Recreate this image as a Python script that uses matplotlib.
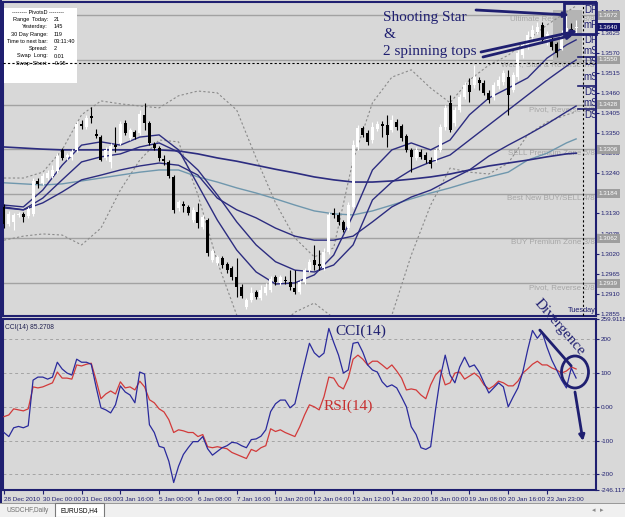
import matplotlib
matplotlib.use("Agg")
import matplotlib.pyplot as plt
import matplotlib.transforms as mtransforms
from matplotlib.patches import Rectangle, Ellipse, FancyArrowPatch
import numpy as np

# EURUSD H4 candles (bar 0 = 28 Dec 2010 16:00)
opens = [1.3148, 1.3101, 1.3107, 1.3126, 1.3129, 1.3124, 1.3129, 1.3219, 1.3214, 1.3227,
         1.3233, 1.3246, 1.3304, 1.3285, 1.3285, 1.3304, 1.3375, 1.3366, 1.3397, 1.3347,
         1.3339, 1.3282, 1.3271, 1.3317, 1.3323, 1.3378, 1.3336, 1.3353, 1.3350, 1.3400,
         1.3378, 1.3320, 1.3309, 1.3279, 1.3271, 1.3230, 1.3145, 1.3156, 1.3148, 1.3112,
         1.3135, 1.3093, 1.3112, 1.3003, 1.2995, 1.3008, 1.2992, 1.2981, 1.2956, 1.2929,
         1.2874, 1.2893, 1.2916, 1.2899, 1.2913, 1.2921, 1.2956, 1.2940, 1.2948, 1.2943,
         1.2926, 1.2916, 1.2943, 1.2975, 1.3003, 1.2992, 1.2981, 1.3025, 1.3132, 1.3126,
         1.3107, 1.3090, 1.3148, 1.3312, 1.3364, 1.3350, 1.3331, 1.3361, 1.3375, 1.3372,
         1.3358, 1.3380, 1.3369, 1.3342, 1.3304, 1.3282, 1.3298, 1.3290, 1.3276, 1.3276,
         1.3304, 1.3366, 1.3433, 1.3378, 1.3413, 1.3449, 1.3482, 1.3482, 1.3495, 1.3487,
         1.3460, 1.3449, 1.3479, 1.3490, 1.3504, 1.3468, 1.3504, 1.3563, 1.3585, 1.3613,
         1.3626, 1.3646, 1.3596, 1.3605, 1.3594, 1.3580, 1.3624, 1.3635, 1.3637]
closes = [1.3101, 1.3129, 1.3126, 1.3129, 1.3121, 1.3142, 1.3219, 1.3211, 1.3233, 1.3241,
          1.3249, 1.3287, 1.3282, 1.3290, 1.3298, 1.3375, 1.3369, 1.3391, 1.3391, 1.3342,
          1.3276, 1.3304, 1.3315, 1.3312, 1.3375, 1.3350, 1.3358, 1.3339, 1.3402, 1.3378,
          1.3323, 1.3309, 1.3282, 1.3273, 1.3233, 1.3140, 1.3162, 1.3151, 1.3132, 1.3140,
          1.3104, 1.3121, 1.3022, 1.3027, 1.3011, 1.2989, 1.2975, 1.2956, 1.2929, 1.2904,
          1.2893, 1.2913, 1.2902, 1.2921, 1.2929, 1.2951, 1.2943, 1.2956, 1.2946, 1.2929,
          1.2916, 1.2943, 1.2975, 1.2998, 1.2989, 1.2986, 1.3025, 1.3126, 1.3126, 1.3107,
          1.3085, 1.3153, 1.3317, 1.3364, 1.3345, 1.3326, 1.3366, 1.3375, 1.3369, 1.3345,
          1.3386, 1.3366, 1.3336, 1.3304, 1.3285, 1.3304, 1.3285, 1.3276, 1.3265, 1.3304,
          1.3366, 1.3419, 1.3358, 1.3413, 1.3449, 1.3482, 1.3463, 1.3504, 1.3487, 1.3460,
          1.3441, 1.3482, 1.3495, 1.3514, 1.3454, 1.3509, 1.3569, 1.3591, 1.3618, 1.3632,
          1.3640, 1.3605, 1.3621, 1.3585, 1.3569, 1.3624, 1.3637, 1.3632, 1.3640]
highs = [1.3156, 1.3137, 1.3132, 1.3135, 1.3135, 1.3148, 1.3227, 1.3227, 1.3241, 1.3249,
         1.3262, 1.3295, 1.3309, 1.3295, 1.3306, 1.3383, 1.3386, 1.3400, 1.3422, 1.3361,
         1.3345, 1.3312, 1.3323, 1.3366, 1.3383, 1.3386, 1.3364, 1.3358, 1.3413, 1.3433,
         1.3383, 1.3326, 1.3315, 1.3290, 1.3276, 1.3235, 1.3167, 1.3164, 1.3153, 1.3148,
         1.3159, 1.3126, 1.3118, 1.3033, 1.3016, 1.3014, 1.2998, 1.2986, 1.3008, 1.2937,
         1.2899, 1.2929, 1.2921, 1.2935, 1.2940, 1.2959, 1.2962, 1.2962, 1.2959, 1.2975,
         1.2975, 1.2948, 1.2981, 1.3005, 1.3044, 1.3030, 1.3036, 1.3135, 1.3145, 1.3135,
         1.3112, 1.3162, 1.3331, 1.3372, 1.3369, 1.3358, 1.3380, 1.3383, 1.3383, 1.3400,
         1.3400, 1.3388, 1.3375, 1.3347, 1.3309, 1.3312, 1.3306, 1.3298, 1.3285, 1.3309,
         1.3375, 1.3427, 1.3454, 1.3422, 1.3457, 1.3490, 1.3501, 1.3536, 1.3504, 1.3495,
         1.3468, 1.3490, 1.3506, 1.3523, 1.3523, 1.3517, 1.3577, 1.3599, 1.3629, 1.3646,
         1.3654, 1.3654, 1.3629, 1.3613, 1.3599, 1.3632, 1.3673, 1.3651, 1.3659]
lows = [1.3090, 1.3096, 1.3085, 1.3121, 1.3107, 1.3118, 1.3124, 1.3200, 1.3208, 1.3222,
        1.3227, 1.3241, 1.3276, 1.3276, 1.3276, 1.3298, 1.3361, 1.3361, 1.3378, 1.3336,
        1.3273, 1.3276, 1.3254, 1.3298, 1.3317, 1.3345, 1.3331, 1.3334, 1.3345, 1.3358,
        1.3317, 1.3304, 1.3273, 1.3262, 1.3227, 1.3132, 1.3137, 1.3135, 1.3126, 1.3107,
        1.3090, 1.3087, 1.3014, 1.2998, 1.2989, 1.2981, 1.2967, 1.2948, 1.2902, 1.2899,
        1.2869, 1.2888, 1.2896, 1.2893, 1.2907, 1.2916, 1.2935, 1.2935, 1.2937, 1.2921,
        1.2910, 1.2910, 1.2937, 1.2970, 1.2975, 1.2975, 1.2975, 1.3019, 1.3118, 1.3098,
        1.3080, 1.3085, 1.3145, 1.3304, 1.3339, 1.3317, 1.3323, 1.3355, 1.3339, 1.3312,
        1.3353, 1.3358, 1.3328, 1.3298, 1.3243, 1.3276, 1.3279, 1.3268, 1.3254, 1.3271,
        1.3298, 1.3358, 1.3353, 1.3369, 1.3408, 1.3443, 1.3435, 1.3473, 1.3468, 1.3454,
        1.3433, 1.3441, 1.3471, 1.3482, 1.3400, 1.3463, 1.3495, 1.3555, 1.3580, 1.3605,
        1.3621, 1.3596, 1.3591, 1.3577, 1.3558, 1.3577, 1.3621, 1.3624, 1.3624]

# indicator lines sampled every 4 bars
ma_bars = [0, 4, 8, 12, 16, 20, 24, 28, 32, 36, 40, 44, 48, 52, 56, 60, 64, 68, 72, 76,
           80, 84, 88, 92, 96, 100, 104, 108, 112, 116, 118]
ma_long = [1.3312, 1.3309, 1.3306, 1.3304, 1.3304, 1.3304, 1.3304, 1.3304, 1.3304, 1.3301,
           1.3293, 1.3282, 1.3273, 1.3262, 1.3251, 1.3241, 1.3230, 1.3222, 1.3216, 1.3216,
           1.3219, 1.3224, 1.3230, 1.3238, 1.3249, 1.3260, 1.3268, 1.3276, 1.3285, 1.3293, 1.3295]
ma_teal = [1.3214, 1.3211, 1.3208, 1.3211, 1.3219, 1.3227, 1.3235, 1.3243, 1.3249, 1.3249,
           1.3230, 1.3216, 1.3200, 1.3186, 1.3170, 1.3153, 1.3137, 1.3129, 1.3126, 1.3137,
           1.3153, 1.3170, 1.3186, 1.3200, 1.3216, 1.3230, 1.3243, 1.3276, 1.3295, 1.3323, 1.3334]
ma_fast = [1.3153, 1.3148, 1.3194, 1.3262, 1.3317, 1.3326, 1.3317, 1.3339, 1.3345, 1.3304,
           1.3208, 1.3112, 1.3030, 1.2970, 1.2937, 1.2940, 1.2962, 1.3016, 1.3126, 1.3249,
           1.3304, 1.3323, 1.3304, 1.3331, 1.3400, 1.3446, 1.3473, 1.3501, 1.3555, 1.3591, 1.3605]
ma_mid = [1.3145, 1.3140, 1.3172, 1.3222, 1.3271, 1.3285, 1.3293, 1.3312, 1.3323, 1.3298,
          1.3249, 1.3181, 1.3107, 1.3044, 1.2998, 1.2975, 1.2970, 1.2989, 1.3044, 1.3167,
          1.3216, 1.3249, 1.3271, 1.3290, 1.3331, 1.3372, 1.3413, 1.3454, 1.3495, 1.3533, 1.3550]
ma_slow = [1.3148, 1.3140, 1.3159, 1.3189, 1.3222, 1.3235, 1.3249, 1.3260, 1.3268, 1.3262,
           1.3235, 1.3172, 1.3140, 1.3118, 1.3090, 1.3068, 1.3057, 1.3057, 1.3068, 1.3107,
           1.3148, 1.3175, 1.3194, 1.3222, 1.3249, 1.3287, 1.3317, 1.3345, 1.3375, 1.3408, 1.3424]
bb_upper = [1.3227, 1.3227, 1.3243, 1.3304, 1.3400, 1.3438, 1.3430, 1.3424, 1.3419, 1.3452,
            1.3465, 1.3460, 1.3413, 1.3282, 1.3159, 1.3063, 1.3011, 1.3036, 1.3276, 1.3433,
            1.3503, 1.3523, 1.3473, 1.3433, 1.3495, 1.3536, 1.3563, 1.3605, 1.3646, 1.3681, 1.3698]
bb_lower = [1.3057, 1.3068, 1.3074, 1.3071, 1.3044, 1.3090, 1.3194, 1.3276, 1.3331, 1.3326,
            1.3181, 1.2998, 1.2852, 1.2798, 1.2811, 1.2860, 1.2885, 1.2844, 1.2798, 1.2798,
            1.2852, 1.3016, 1.3153, 1.3254, 1.3243, 1.3238, 1.3268, 1.3345, 1.3380, 1.3400, 1.3408]

murrey_levels = [1.3672, 1.3550, 1.3428, 1.3306, 1.3184, 1.3062, 1.2939]
murrey_names = ["Ultimate Resistance 8/8", "Weak, Stall & Reverse 7/8", "Pivot, Reverse 6/8",
                "SELL Premium Zone 5/8", "Best New BUY/SELL 4/8", "BUY Premium Zone 3/8",
                "Pivot, Reverse 2/8"]
price_ticks = [1.2855, 1.2910, 1.2965, 1.3020, 1.3075, 1.3130, 1.3240, 1.3295,
               1.3350, 1.3405, 1.3460, 1.3515, 1.3570, 1.3625, 1.3680]
last_price = 1.3640
bid_line = 1.3542

pivot_names = ["DR", "mR", "DP", "mS", "DS", "mS", "DS", "mS", "DS"]
pivot_prices = [1.3687, 1.3646, 1.3605, 1.3574, 1.3544, 1.3503, 1.3463, 1.3433, 1.3400]

info_keys = ["Range  Today:", "Yesterday:", "30 Day Range:", "Time to next bar:",
             "Spread:", "Swap  Long:", "Swap  Short:"]
info_vals = ["21", "145", "119", "03:11:40", "2", "0.01", "-0.05"]

# CCI(14) and RSI(14) as drawn in the lower window
cci = [-76, -88, -62, -58, -62, -56, 79, 88, 88, 82, 88, 132, 112, 100, 94, 141, 132, 132, 126, 59,
       -3, -9, -18, 6, 62, 44, 35, 12, 103, 97, -53, -76, -117, -121, -161, -224, -176, -141, -121, -103,
       -103, -88, -124, -143, -132, -121, -115, -105, -107, -115, -121, -97, -95, -87, -68, -14, 9, 20, 20, -3,
       9, 70, 129, 188, 160, 147, 159, 232, 191, 153, 100, 109, 188, 191, 162, 124, 109, 103, 74, 59,
       65, 56, 29, 0, -59, -82, -121, -126, -118, -9, 88, 153, 94, 71, 118, 147, 118, 124, 103, 71,
       41, 56, 71, 59, 0, 29, 56, 103, 168, 226, 203, 221, 176, 138, 109, 79, 56, 115, 85.27]
rsi = [-29, -24, -6, -9, -12, -6, 59, 56, 59, 65, 71, 103, 85, 85, 82, 124, 121, 126, 129, 79,
       24, 38, 47, 38, 74, 56, 59, 50, 76, 59, 21, 12, -6, -15, -38, -76, -68, -71, -76, -76,
       -88, -82, -118, -121, -118, -121, -124, -135, -141, -147, -153, -126, -132, -121, -115, -65, -73, -68, -76, -82,
       -88, -59, -24, 6, 0, -9, 30, 88, 85, 62, 53, 85, 141, 153, 141, 124, 135, 135, 124, 112,
       124, 106, 85, 50, 53, 50, 35, 24, 65, 94, 109, 65, 71, 100, 103, 82, 91, 100, 88, 65,
       53, 62, 76, 71, 62, 62, 76, 100, 112, 126, 135, 124, 124, 115, 109, 100, 106, 118, 112]
cci_ticks = [259.9118, 200, 100, 0, -100, -200, -246.117]
cci_tick_labels = ["259.9118", "200", "100", "0.00", "-100", "-200", "-246.117"]

time_bars = [0, 8, 16, 24, 32, 40, 48, 56, 64, 72, 80, 88, 96, 104, 112]
time_labels = ["28 Dec 2010", "30 Dec 00:00", "31 Dec 08:00", "3 Jan 16:00", "5 Jan 00:00",
               "6 Jan 08:00", "7 Jan 16:00", "10 Jan 20:00", "12 Jan 04:00", "13 Jan 12:00",
               "14 Jan 20:00", "18 Jan 00:00", "19 Jan 08:00", "20 Jan 16:00", "23 Jan 23:00"]

W, H = 625, 517
bg = '#d8d8d8'
navy = '#1f1f70'
line_navy = '#2c2c80'
teal = '#6f97ad'
grey_txt = '#a6a6a6'
serif = 'Liberation Serif'
sans = 'Liberation Sans'

fig = plt.figure(figsize=(W / 100, H / 100), dpi=100, facecolor=bg)
# pixel coords measured from the top-left corner of the picture
pix = mtransforms.Affine2D().scale(1 / W, -1 / H).translate(0, 1) + fig.transFigure


def px_axes(x0, y0, x1, y1):
    return fig.add_axes([x0 / W, 1 - y1 / H, (x1 - x0) / W, (y1 - y0) / H])


# ---------------- main price window ----------------
ax = px_axes(3, 2, 596, 316)
ax.set_facecolor(bg)
ax.set_xlim(-0.2, 122.1)
ax.set_ylim(1.28495, 1.37086)
for s in ax.spines.values():
    s.set_color(navy)
    s.set_linewidth(1.5)
ax.set_xticks([])
ax.yaxis.tick_right()
ax.set_yticks(price_ticks)
ax.set_yticklabels([f"{p:.4f}" for p in price_ticks], family=sans)
ax.tick_params(axis='y', colors=navy, labelsize=4.6, length=2, width=0.8, pad=1.5)

ylab = ax.get_yaxis_transform()
for lvl, name in zip(murrey_levels, murrey_names):
    ax.axhline(lvl, color='#a2a2a2', lw=1, zorder=1)
    ax.text(0.998, lvl - 0.0003, name, transform=ylab, ha='right', va='top',
            fontsize=5.8, color=grey_txt, family=sans, zorder=1)
    ax.text(1.0045, lvl, f"{lvl:.4f}", transform=ylab, ha='left', va='center', fontsize=4.5,
            family=sans, color='white', clip_on=False, zorder=8,
            bbox=dict(boxstyle='square,pad=0.3', fc='#9e9e9e', ec='none'))
ax.text(1.0045, last_price, f"{last_price:.4f}", transform=ylab, ha='left', va='center',
        fontsize=4.5, family=sans, color='white', clip_on=False, zorder=9,
        bbox=dict(boxstyle='square,pad=0.3', fc='#16166a', ec='none'))

# highlighted area behind the last candles
ax.add_patch(Rectangle((553, 10), 29, 53, transform=pix, fc='#b4b4b4', ec='none', zorder=1.5))

# bollinger bands and moving averages
ax.plot(ma_bars, bb_upper, color='#8a8a8a', lw=0.8, ls=(0, (2, 2)), zorder=2)
ax.plot(ma_bars, bb_lower, color='#8a8a8a', lw=0.8, ls=(0, (2, 2)), zorder=2)
ax.plot(ma_bars, ma_teal, color=teal, lw=1.0, zorder=2)
ax.plot(ma_bars, ma_long, color=line_navy, lw=1.2, zorder=2)
ax.plot(ma_bars, ma_slow, color=line_navy, lw=1.0, zorder=2)
ax.plot(ma_bars, ma_mid, color=line_navy, lw=1.0, zorder=2)
ax.plot(ma_bars, ma_fast, color=line_navy, lw=1.0, zorder=2)

# candles
o = np.array(opens)
c = np.array(closes)
xb = np.arange(len(c))
cols = np.where(c >= o, 'white', 'black')
ax.vlines(xb, lows, highs, colors=cols, lw=0.8, zorder=3)
body = np.maximum(np.abs(c - o), 0.00009)
ax.bar(xb, body, bottom=np.minimum(o, c), width=0.62, color=cols, linewidth=0, zorder=4)

# pivot labels at the right edge
for name, p in zip(pivot_names, pivot_prices):
    ax.text(119.6, p, name, ha='left', va='center', fontsize=7, family=sans, color=navy,
            zorder=5, clip_on=True)
for yy in [57, 86, 109]:
    ax.plot([578, 596], [yy, yy], transform=pix, color=navy, lw=1.2, zorder=5)
ax.plot([583, 583], [2, 316], transform=pix, color='black', lw=0.8, ls=(0, (2, 2)), zorder=5)
ax.text(568, 311, "Tuesday", transform=pix, ha='left', va='center', fontsize=5.3,
        family=sans, color=navy, zorder=6)

# info box
ax.add_patch(Rectangle((4, 8), 73, 75, transform=pix, fc='white', ec='none', zorder=6))
ax.text(38, 12, "-------- PivotsD --------", transform=pix, ha='center', va='center',
        fontsize=4.0, family=sans, color='black', zorder=7)
for i, (k, v) in enumerate(zip(info_keys, info_vals)):
    yy = 19.5 + i * 7.3
    ax.text(48, yy, k, transform=pix, ha='right', va='center', fontsize=4.0, family=sans,
            zorder=7)
    ax.text(54, yy, v, transform=pix, ha='left', va='center', fontsize=4.0, family=sans,
            zorder=7)
ax.axhline(bid_line, color='black', lw=0.8, ls=(0, (2, 2)), zorder=8)

# annotation: box, text and arrows
ax.add_patch(Rectangle((564, 3), 32, 31, transform=pix, fc='none', ec=navy, lw=2, zorder=9,
                       clip_on=False))
ax.text(383, 17, "Shooting Star", transform=pix, ha='left', va='center', fontsize=11,
        family=serif, color=navy, zorder=9)
ax.text(383, 34, "&", transform=pix, ha='left', va='center', fontsize=11,
        family=serif, color=navy, zorder=9)
ax.text(383, 51, "2 spinning tops", transform=pix, ha='left', va='center', fontsize=11,
        family=serif, color=navy, zorder=9)
for (xa, ya), (xe, ye) in [((476, 10), (569, 15)), ((481, 52), (577, 31)), ((483, 57), (573, 35))]:
    fig.add_artist(FancyArrowPatch((xa, ya), (xe, ye), transform=pix, arrowstyle='-|>',
                                   mutation_scale=7, color=navy, lw=2, shrinkA=0, shrinkB=0))

# ---------------- CCI / RSI window ----------------
cx = px_axes(3, 319, 596, 490)
cx.set_facecolor(bg)
cx.set_xlim(-0.2, 122.1)
cx.set_ylim(-246.117, 259.9118)
for s in cx.spines.values():
    s.set_color(navy)
    s.set_linewidth(1.5)
for v in [200, 100, 0, -100, -200]:
    cx.axhline(v, color='#a4a4a4', lw=0.7, ls=(0, (3, 3)), zorder=1)
xi = np.arange(len(cci))
cx.plot(xi, rsi, color='#d23a3a', lw=0.9, zorder=3)
cx.plot(xi, cci, color='#2a2a9c', lw=0.9, zorder=4)
cx.yaxis.tick_right()
cx.set_yticks(cci_ticks)
cx.set_yticklabels(cci_tick_labels, family=sans)
cx.tick_params(axis='y', colors=navy, labelsize=4.6, length=2, width=0.8, pad=1.5)
cx.set_xticks(time_bars)
cx.set_xticklabels(time_labels, family=sans)
cx.tick_params(axis='x', colors=navy, labelsize=4.6, length=3, width=0.8, pad=2)
for lbl in cx.get_xticklabels():
    lbl.set_ha('left')
cx.text(0.004, 0.97, "CCI(14) 85.2708", transform=cx.transAxes, ha='left', va='top',
        fontsize=4.8, family=sans, color='#202050')

cx.text(335, 331, "CCI(14)", transform=pix, ha='left', va='center', fontsize=11,
        family=serif, color=navy, zorder=6)
cx.text(324, 406, "RSI(14)", transform=pix, ha='left', va='center', fontsize=11,
        family=serif, color='#c83030', zorder=6)

fig.text(559, 327, "Divergence", transform=pix, ha='center', va='center', fontsize=11,
         family=serif, color=navy, rotation=-49, rotation_mode='anchor')
fig.add_artist(FancyArrowPatch((538, 328), (573, 368), transform=pix, arrowstyle='-',
                               color=navy, lw=2))
fig.add_artist(Ellipse((575, 372), 27, 32, transform=pix, fc='none', ec=navy, lw=2))
fig.add_artist(FancyArrowPatch((575, 392), (583, 441), transform=pix, arrowstyle='-|>',
                               mutation_scale=8, color=navy, lw=2, shrinkA=0, shrinkB=0))

# window frame and tab bar
fig.add_artist(Rectangle((0, 0), 2, 503, transform=pix, fc=navy, ec='none'))
fig.add_artist(Rectangle((0, 503), W, 14, transform=pix, fc='#f0f0f0', ec='none'))
fig.add_artist(Rectangle((0, 503), W, 0.8, transform=pix, fc='#9a9a9a', ec='none'))
fig.add_artist(Rectangle((55, 503), 49, 14, transform=pix, fc='white', ec='#7a7a7a', lw=0.8))
fig.text(28, 511, "USDCHF,Daily", transform=pix, ha='center', va='center', fontsize=4.7,
         family=sans, color='#707070')
fig.text(79, 511, "EURUSD,H4", transform=pix, ha='center', va='center', fontsize=4.7,
         family=sans, color='black')
fig.text(598, 510, "\u25c2  \u25b8", transform=pix, ha='center', va='center', fontsize=5,
         color='#8a8a8a')

fig.savefig("out.png", dpi=100, facecolor=fig.get_facecolor())
